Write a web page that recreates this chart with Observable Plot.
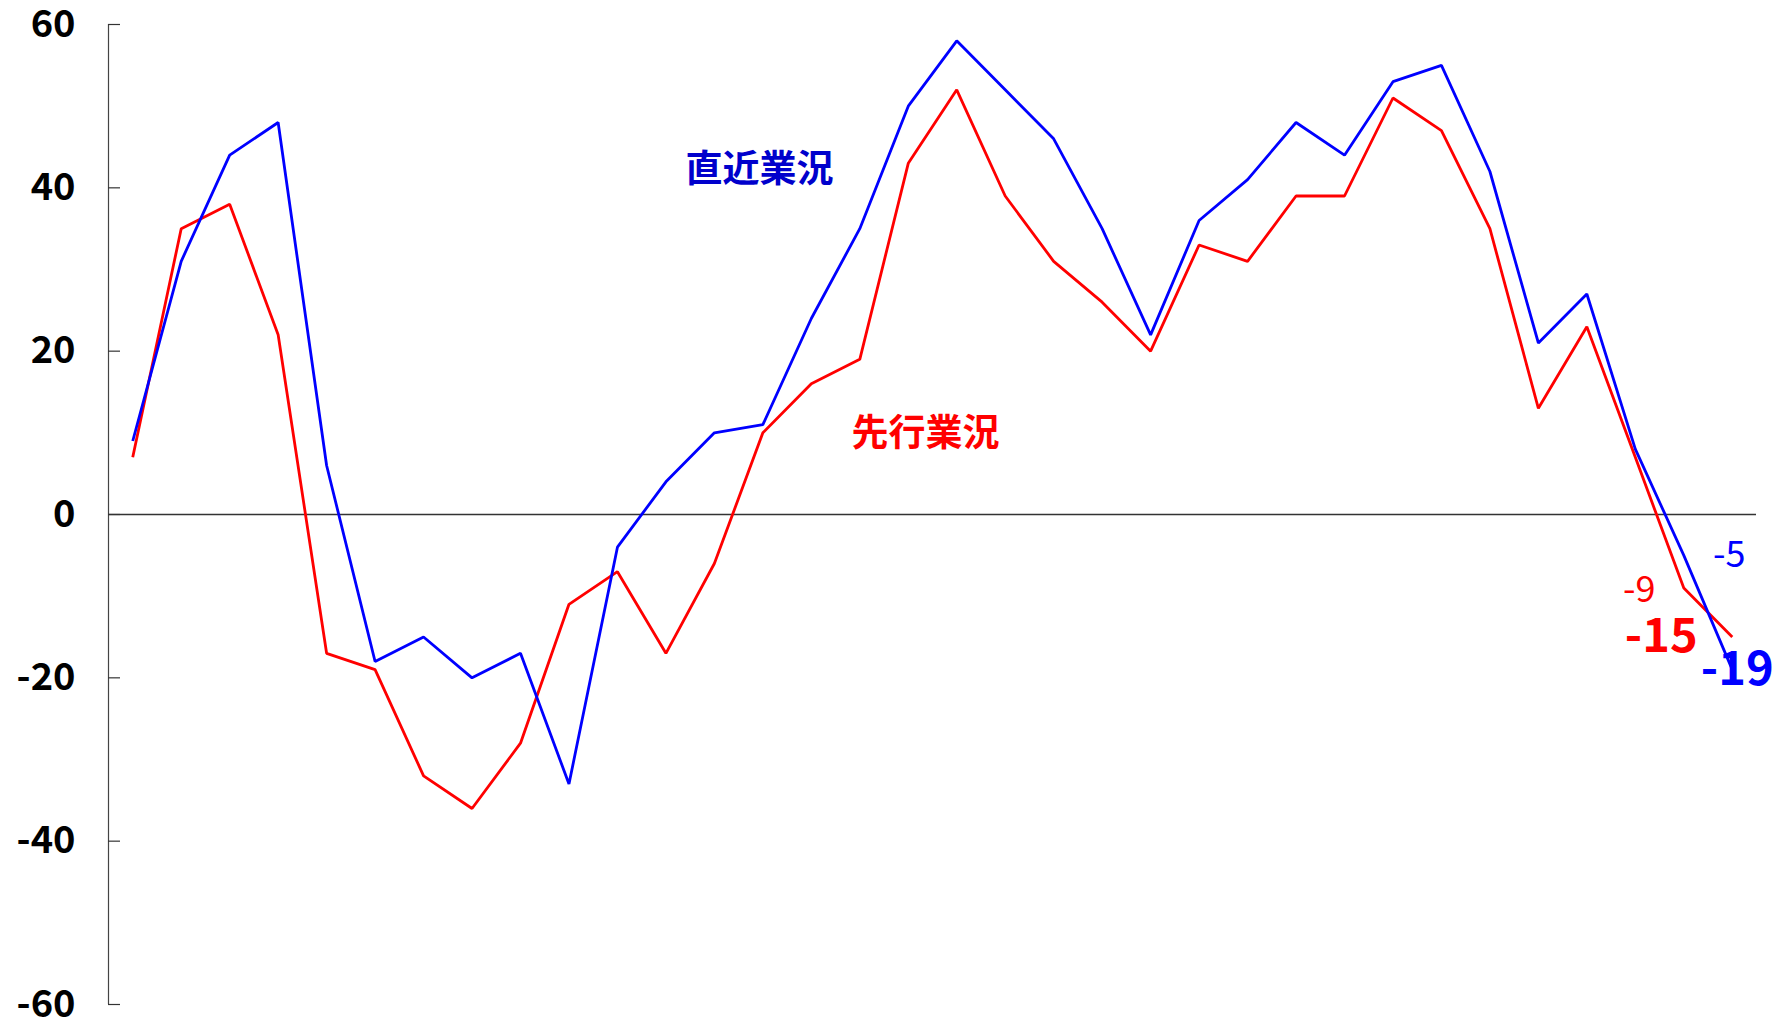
<!DOCTYPE html>
<html>
<head>
<meta charset="utf-8">
<script src="https://cdn.jsdelivr.net/npm/d3@7"></script>
<script src="https://cdn.jsdelivr.net/npm/@observablehq/plot@0.6"></script>
<style>
  html, body { margin: 0; padding: 0; background: #fff; }
</style>
</head>
<body>
<div id="chart"></div>
<script>
// Period index (34 consecutive survey periods; no x labels in the original)
const periods = d3.range(34);

// 直近業況 (recent business conditions DI)
const recent = [9, 31, 44, 48, 6, -18, -15, -20, -17, -33, -4, 4, 10, 11, 24, 35, 50, 58, 52, 46,
                35, 22, 36, 41, 48, 44, 53, 55, 42, 21, 27, 8, -5, -19];

// 先行業況 (outlook DI)
const forecast = [7, 35, 38, 22, -17, -19, -32, -36, -28, -11, -7, -17, -6, 10, 16, 19, 43, 52, 39, 31,
                  26, 20, 33, 31, 39, 39, 51, 47, 35, 13, 23, 7, -9, -15];

const yTicks = [-60, -40, -20, 0, 20, 40, 60];
const recentName = "直近業況";
const forecastName = "先行業況";
const recentTags = [-5, -19];
const forecastTags = [-9, -15];

const BLUE = "#0000FF";
const RED = "#FF0000";
const font = "'Noto Sans CJK JP', 'Noto Sans', sans-serif";
const last = periods[periods.length - 1];

const recentRows = periods.map((p, i) => ({p, v: recent[i]}));
const forecastRows = periods.map((p, i) => ({p, v: forecast[i]}));

const chart = Plot.plot({
  width: 1778,
  height: 1022,
  marginTop: 24,
  marginBottom: 18,
  marginLeft: 108,
  marginRight: 22,
  style: {fontFamily: font, background: "#fff", overflow: "visible"},
  x: {domain: [periods[0] - 0.5, last + 0.5], axis: null},
  y: {domain: [yTicks[0], yTicks[yTicks.length - 1]], axis: null},
  marks: [
    Plot.ruleX([periods[0] - 0.5], {stroke: "#444", strokeWidth: 1.2}),
    Plot.axisY({ticks: yTicks, tickSize: 0, tickPadding: 33, fontSize: 38, fontWeight: "bold",
                fill: "#000", label: null, tickFormat: d => String(d)}),
    Plot.axisY({ticks: yTicks, tickSize: -12, text: null, label: null, stroke: "#333", strokeWidth: 1.2}),
    Plot.ruleY([0], {stroke: "#333", strokeWidth: 1.3}),
    Plot.line(forecastRows, {x: "p", y: "v", stroke: RED, strokeWidth: 2.8,
                             strokeLinejoin: "miter", strokeLinecap: "butt"}),
    Plot.line(recentRows, {x: "p", y: "v", stroke: BLUE, strokeWidth: 2.8,
                           strokeLinejoin: "miter", strokeLinecap: "butt"}),
    Plot.text([recentName], {frameAnchor: "top-left", dx: 651, dy: 146, text: d => d,
                             textAnchor: "middle", lineAnchor: "middle",
                             fill: "#0000CC", fontSize: 37, fontWeight: "bold"}),
    Plot.text([forecastName], {frameAnchor: "top-left", dx: 817, dy: 410, text: d => d,
                               textAnchor: "middle", lineAnchor: "middle",
                               fill: RED, fontSize: 37, fontWeight: "bold"}),
    Plot.text([recentTags[0]], {x: () => last, y: d => d, text: d => String(d), dx: -3,
                                textAnchor: "middle", lineAnchor: "middle",
                                fill: BLUE, fontSize: 36}),
    Plot.text([recentTags[1]], {x: () => last, y: d => d, text: d => String(d), dx: 5,
                                textAnchor: "middle", lineAnchor: "middle",
                                fill: BLUE, fontSize: 47, fontWeight: "bold"}),
    Plot.text([forecastTags[0]], {x: () => last, y: d => d, text: d => String(d), dx: -93, dy: 2,
                                  textAnchor: "middle", lineAnchor: "middle",
                                  fill: RED, fontSize: 36}),
    Plot.text([forecastTags[1]], {x: () => last, y: d => d, text: d => String(d), dx: -71,
                                  textAnchor: "middle", lineAnchor: "middle",
                                  fill: RED, fontSize: 47, fontWeight: "bold"})
  ]
});

document.getElementById("chart").appendChild(chart);
</script>
</body>
</html>
